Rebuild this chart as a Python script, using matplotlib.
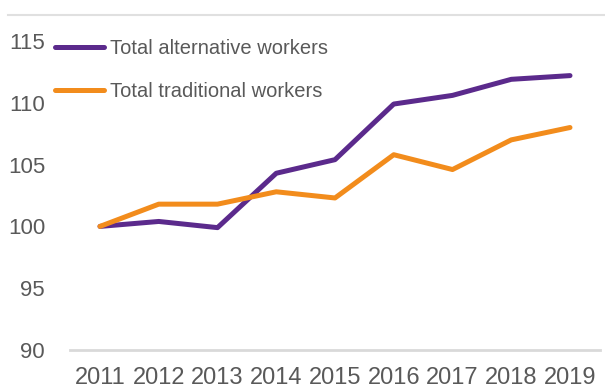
import numpy as np
import matplotlib
matplotlib.use("Agg")
import matplotlib.pyplot as plt
from matplotlib.lines import Line2D

# index values, 2011 = 100
years = [2011, 2012, 2013, 2014, 2015, 2016, 2017, 2018, 2019]
alternative = [100.0, 100.4, 99.9, 104.3, 105.4, 109.9, 110.6, 111.9, 112.2]
traditional = [100.0, 101.8, 101.8, 102.8, 102.3, 105.8, 104.6, 107.0, 108.0]
labels = ["Total alternative workers", "Total traditional workers"]

purple = "#5b2a8c"
orange = "#f28c1c"
grey_text = "#595959"

plt.rcParams['font.family'] = ['Liberation Sans', 'DejaVu Sans']

fig = plt.figure(figsize=(6.05, 3.89), dpi=100)
ax = fig.add_axes([70 / 605, 1 - 350 / 389, 530 / 605, (350 - 41) / 389])

ax.plot(years, alternative, color=purple, lw=3.6, label=labels[0], solid_capstyle='round')
ax.plot(years, traditional, color=orange, lw=3.6, label=labels[1], solid_capstyle='round')

ax.set_xlim(2011 - 30 / 58.75, 2019 + 30 / 58.75)
ax.set_ylim(90, 115)
ax.set_yticks([90, 95, 100, 105, 110, 115])
ax.set_xticks(years)

for s in ['top', 'right', 'left']:
    ax.spines[s].set_visible(False)
ax.spines['bottom'].set_color('#d9d9d9')
ax.spines['bottom'].set_linewidth(2)

ax.tick_params(axis='both', length=0, labelsize=16, colors=grey_text)
ax.tick_params(axis='x', labelsize=17, pad=12)
ax.tick_params(axis='y', pad=18)

# thin grey rule at top of the figure
fig.add_artist(Line2D([8 / 605, 1], [1 - 15 / 389, 1 - 15 / 389],
                      transform=fig.transFigure, color='#e0e0e0', lw=1.5))

leg = ax.legend(loc='upper left', bbox_to_anchor=(55 / 605, 1 - 39 / 389),
                bbox_transform=fig.transFigure, frameon=False, fontsize=14.5,
                handlelength=2.45, handletextpad=0.3, labelspacing=1.17,
                borderpad=0, borderaxespad=0)
for t in leg.get_texts():
    t.set_color(grey_text)

fig.savefig("out.png", dpi=100)
